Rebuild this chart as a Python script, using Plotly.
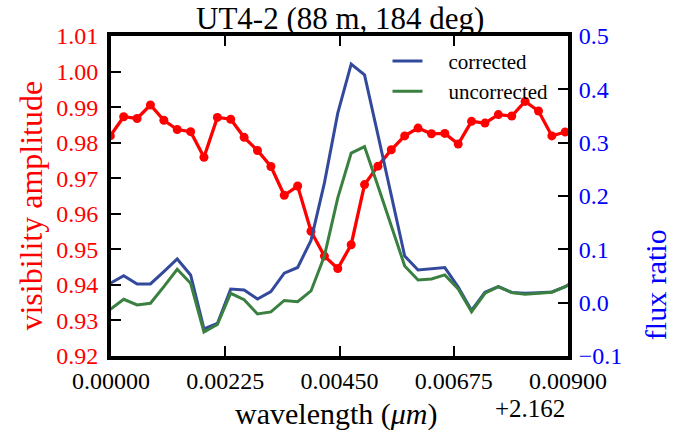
import plotly.graph_objects as go

# wavelength offset from 2.162 micron
wavelength = [-0.000013, 0.000250, 0.000514, 0.000777, 0.001041, 0.001304,
              0.001568, 0.001831, 0.002095, 0.002358, 0.002622, 0.002885,
              0.003149, 0.003412, 0.003676, 0.003939, 0.004203, 0.004466,
              0.004730, 0.004993, 0.005257, 0.005520, 0.005784, 0.006047,
              0.006311, 0.006574, 0.006838, 0.007101, 0.007365, 0.007628,
              0.007892, 0.008155, 0.008419, 0.008682, 0.008946, 0.009209]

visibility = [0.9819, 0.9873, 0.9868, 0.9906, 0.9863, 0.9837, 0.9831, 0.9759,
              0.9871, 0.9866, 0.9815, 0.9778, 0.9733, 0.9652, 0.9678, 0.9551,
              0.9481, 0.9446, 0.9513, 0.9682, 0.9734, 0.9780, 0.9819, 0.9841,
              0.9825, 0.9826, 0.9796, 0.9860, 0.9855, 0.9879, 0.9875, 0.9916,
              0.9889, 0.9819, 0.9830, 0.9835]

flux_corrected = [0.0364, 0.0507, 0.0351, 0.0351, 0.0582, 0.0820, 0.0520, -0.0493,
                  -0.0390, 0.0257, 0.0238, 0.0069, 0.0206, 0.0553, 0.0660, 0.1167,
                  0.2246, 0.3553, 0.4473, 0.4272, 0.3146, 0.2026, 0.0876, 0.0613,
                  0.0632, 0.0657, 0.0295, -0.0146, 0.0195, 0.0300, 0.0191, 0.0176,
                  0.0186, 0.0201, 0.0300, 0.0450]

flux_uncorrected = [-0.0124, 0.0064, -0.0043, -0.0011, 0.0300, 0.0627, 0.0364, -0.0550,
                    -0.0409, 0.0176, 0.0056, -0.0212, -0.0174, 0.0041, 0.0019, 0.0220,
                    0.0876, 0.1964, 0.2803, 0.2927, 0.2189, 0.1445, 0.0689, 0.0426,
                    0.0445, 0.0520, 0.0257, -0.0169, 0.0176, 0.0300, 0.0188, 0.0158,
                    0.0173, 0.0195, 0.0300, 0.0450]

x_ticks = [0.0, 0.00225, 0.0045, 0.00675, 0.009]
x_tick_labels = ["0.00000", "0.00225", "0.00450", "0.00675", "0.00900"]
vis_ticks = [0.92, 0.93, 0.94, 0.95, 0.96, 0.97, 0.98, 0.99, 1.00, 1.01]
flux_ticks = [-0.1, 0.0, 0.1, 0.2, 0.3, 0.4, 0.5]
series_names = ["corrected", "uncorrected"]

FONT = "Liberation Serif"
BLUE_LINE = "#334a9c"
GREEN_LINE = "#3a8040"
GAP = "\u00a0" * 4  # extra space between legend line sample and its text

fig = go.Figure()
fig.add_trace(go.Scatter(x=wavelength, y=visibility, mode="lines+markers",
                         line=dict(color="#ff0000", width=3.3),
                         marker=dict(color="#ff0000", size=9),
                         showlegend=False, yaxis="y"))
fig.add_trace(go.Scatter(x=wavelength, y=flux_corrected, mode="lines",
                         line=dict(color=BLUE_LINE, width=3),
                         name=GAP + series_names[0], yaxis="y2"))
fig.add_trace(go.Scatter(x=wavelength, y=flux_uncorrected, mode="lines",
                         line=dict(color=GREEN_LINE, width=3),
                         name=GAP + series_names[1], yaxis="y2"))

L, R, T, B = 111, 112, 36, 81
fig.update_layout(
    width=680, height=437,
    margin=dict(l=L, r=R, t=T, b=B, pad=0),
    paper_bgcolor="white", plot_bgcolor="white",
    font=dict(family=FONT, color="black"),
    xaxis=dict(range=[0, 0.009], tickvals=x_ticks, ticktext=x_tick_labels,
               showline=True, linecolor="black", linewidth=4, mirror="ticks",
               ticks="inside", ticklen=10, tickwidth=1.5, tickcolor="black",
               showgrid=False, zeroline=False,
               tickfont=dict(family=FONT, size=24, color="black")),
    yaxis=dict(range=[0.92, 1.01], tickvals=vis_ticks, tickformat=".2f",
               showline=True, linecolor="black", linewidth=4,
               ticks="inside", ticklen=10, tickwidth=1.5, tickcolor="black",
               showgrid=False, zeroline=False, ticklabelstandoff=4,
               tickfont=dict(family=FONT, size=24, color="#ff0000")),
    yaxis2=dict(range=[-0.1, 0.5], tickvals=flux_ticks, tickformat=".1f",
                overlaying="y", side="right",
                showline=True, linecolor="black", linewidth=4,
                ticks="inside", ticklen=10, tickwidth=1.5, tickcolor="black",
                showgrid=False, zeroline=False, ticklabelstandoff=2,
                tickfont=dict(family=FONT, size=24, color="#0000ff")),
    legend=dict(x=0.605, y=0.985, xanchor="left", yanchor="top",
                bgcolor="rgba(0,0,0,0)", borderwidth=0,
                font=dict(family=FONT, size=21, color="black")),
    annotations=[
        dict(text="UT4-2 (88 m, 184 deg)", xref="paper", yref="paper",
             x=0.5004, y=1.056, xanchor="center", yanchor="middle",
             showarrow=False, font=dict(family=FONT, size=31, color="black")),
        dict(text="visibility amplitude", xref="paper", yref="paper",
             x=-0.1758, y=0.469, xanchor="center", yanchor="middle", textangle=-90,
             showarrow=False, font=dict(family=FONT, size=32, color="#ff0000")),
        dict(text="flux ratio", xref="paper", yref="paper",
             x=1.193, y=0.222, xanchor="center", yanchor="middle", textangle=-90,
             showarrow=False, font=dict(family=FONT, size=30, color="#0000ff")),
        dict(text="wavelength (<i>μm</i>)", xref="paper", yref="paper",
             x=0.493, y=-0.181, xanchor="center", yanchor="middle",
             showarrow=False, font=dict(family=FONT, size=30, color="black")),
        dict(text="+2.162", xref="paper", yref="paper",
             x=0.9978, y=-0.1625, xanchor="right", yanchor="middle",
             showarrow=False, font=dict(family=FONT, size=25, color="black")),
    ],
)

fig.write_html("out.html")
